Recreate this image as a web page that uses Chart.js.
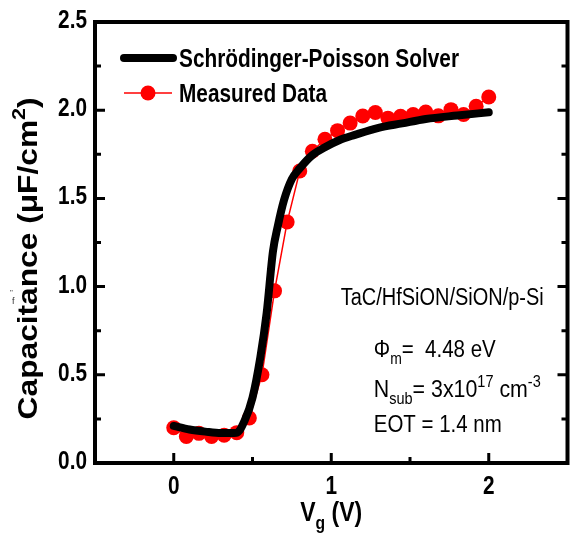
<!DOCTYPE html>
<html>
<head>
<meta charset="utf-8">
<script src="https://cdn.jsdelivr.net/npm/chart.js@4.4.0/dist/chart.umd.min.js"></script>
<style>
  html, body { margin: 0; padding: 0; background: #fff; overflow: hidden; }
  canvas { display: block; }
</style>
</head>
<body>
<canvas id="c" width="575" height="547"></canvas>
<script>
// データ
const solverV = [0, 0.1, 0.2, 0.3, 0.4, 0.45, 0.5, 0.55, 0.59, 0.63, 0.66, 0.70, 0.75, 0.80, 0.88, 0.96, 1.05, 1.15, 1.3, 1.45, 1.6, 1.8, 2.0];
const solverC = [0.21, 0.19, 0.178, 0.17, 0.172, 0.24, 0.37, 0.6, 0.85, 1.2, 1.34, 1.49, 1.61, 1.67, 1.745, 1.79, 1.83, 1.86, 1.9, 1.925, 1.95, 1.97, 1.988];

const measV = [0, 0.08, 0.16, 0.24, 0.32, 0.40, 0.48, 0.56, 0.64, 0.72, 0.80, 0.88, 0.96, 1.04, 1.12, 1.20, 1.28, 1.36, 1.44, 1.52, 1.60, 1.68, 1.76, 1.84, 1.92, 2.00];
const measC = [0.2, 0.15, 0.168, 0.15, 0.157, 0.172, 0.255, 0.5, 0.976, 1.366, 1.655, 1.767, 1.835, 1.884, 1.927, 1.967, 1.987, 1.955, 1.965, 1.976, 1.99, 1.968, 2.003, 1.976, 2.022, 2.075];

const xTicks = [0, 1, 2];
const xMinor = [0.5, 1.5];
const yMinor = [0.25, 0.75, 1.25, 1.75, 2.25];

const seriesNames = ['Schrödinger-Poisson Solver', 'Measured Data'];

const FONT_W = "'Liberation Sans', Arial, sans-serif";
const NARROW = 0.8; // Arial Narrow 風に横を詰める

// 文字列（下付き・上付き込み）を幅合わせで描く
function richWidth(ctx, parts, size, weight) {
  let w = 0;
  for (const p of parts) {
    const s = (p.sub || p.sup) ? size * 0.68 : size;
    ctx.font = `${weight} ${s}px ${FONT_W}`;
    w += ctx.measureText(p.t).width;
  }
  return w;
}

function drawRich(ctx, parts, x, y, size, weight, targetW, align) {
  ctx.save();
  const nat = richWidth(ctx, parts, size, weight);
  const sx = targetW ? targetW / nat : NARROW;
  const w = nat * sx;
  const x0 = align === 'center' ? x - w / 2 : align === 'right' ? x - w : x;
  ctx.translate(x0, y);
  ctx.scale(sx, 1);
  ctx.textBaseline = 'alphabetic';
  ctx.textAlign = 'left';
  ctx.fillStyle = '#000';
  let cx = 0;
  for (const p of parts) {
    const s = (p.sub || p.sup) ? size * 0.68 : size;
    ctx.font = `${weight} ${s}px ${FONT_W}`;
    const dy = p.sub ? size * 0.3 : p.sup ? -size * 0.42 : 0;
    ctx.fillText(p.t, cx, dy);
    cx += ctx.measureText(p.t).width;
  }
  ctx.restore();
}

// 枠と内向きの目盛り、目盛りラベル
const framePlugin = {
  id: 'frame',
  afterDraw(chart) {
    const { ctx, chartArea: a, scales } = chart;
    const xs = scales.x, ys = scales.y;
    ctx.save();
    ctx.strokeStyle = '#000';
    ctx.lineWidth = 4;
    ctx.strokeRect(a.left, a.top, a.right - a.left, a.bottom - a.top);

    ctx.lineWidth = 3;
    ctx.beginPath();
    for (const v of xTicks) {
      const px = xs.getPixelForValue(v);
      ctx.moveTo(px, a.bottom); ctx.lineTo(px, a.bottom - 10);
    }
    for (const v of xMinor) {
      const px = xs.getPixelForValue(v);
      ctx.moveTo(px, a.bottom); ctx.lineTo(px, a.bottom - 6);
    }
    for (const t of ys.ticks) {
      const py = ys.getPixelForValue(t.value);
      ctx.moveTo(a.left, py); ctx.lineTo(a.left + 10, py);
      ctx.moveTo(a.right, py); ctx.lineTo(a.right - 10, py);
    }
    for (const v of yMinor) {
      const py = ys.getPixelForValue(v);
      ctx.moveTo(a.left, py); ctx.lineTo(a.left + 6, py);
      ctx.moveTo(a.right, py); ctx.lineTo(a.right - 6, py);
    }
    ctx.stroke();
    ctx.restore();

    // 目盛りラベル（スケールの ticks から）
    for (const t of ys.ticks) {
      const py = ys.getPixelForValue(t.value);
      drawRich(ctx, [{ t: t.label }], a.left - 8, py + 6, 26, 'bold', null, 'right');
    }
    for (const t of xs.ticks) {
      const px = xs.getPixelForValue(t.value);
      drawRich(ctx, [{ t: t.label }], px, a.bottom + 31, 26, 'bold', null, 'center');
    }
  }
};

// 凡例・軸タイトル・注記
const textPlugin = {
  id: 'texts',
  afterDraw(chart) {
    const { ctx, scales } = chart;
    const xs = scales.x, ys = scales.y;
    const ds = chart.data.datasets;

    // 凡例
    ctx.save();
    ctx.lineCap = 'round';
    ctx.strokeStyle = ds[0].borderColor;
    ctx.lineWidth = ds[0].borderWidth;
    ctx.beginPath(); ctx.moveTo(124, 58); ctx.lineTo(173, 58); ctx.stroke();
    ctx.strokeStyle = ds[1].borderColor;
    ctx.lineWidth = ds[1].borderWidth;
    ctx.lineCap = 'butt';
    ctx.beginPath(); ctx.moveTo(124, 93); ctx.lineTo(172, 93); ctx.stroke();
    ctx.fillStyle = ds[1].pointBackgroundColor;
    ctx.beginPath(); ctx.arc(148, 93, ds[1].pointRadius, 0, Math.PI * 2); ctx.fill();
    ctx.restore();
    drawRich(ctx, [{ t: seriesNames[0] }], 179, 67, 25, 'bold', 280);
    drawRich(ctx, [{ t: seriesNames[1] }], 179, 102, 25, 'bold', 148);

    // 軸タイトル
    drawRich(ctx, [{ t: 'V' }, { t: 'g', sub: true }, { t: ' (V)' }], xs.getPixelForValue(1), 521, 27, 'bold', 62, 'center');
    ctx.save();
    ctx.translate(37, ys.getPixelForValue(1.16));
    ctx.rotate(-Math.PI / 2);
    drawRich(ctx, [{ t: 'Capacitance (μF/cm' }, { t: '2', sup: true }, { t: ')' }], 0, 0, 28, 'bold', 322, 'center');
    ctx.restore();

    // 注記
    const ax = xs.getPixelForValue(1.27);
    drawRich(ctx, [{ t: 'TaC/HfSiON/SiON/p-Si' }], xs.getPixelForValue(1.06), 305, 23, 'normal', 203);
    drawRich(ctx, [{ t: 'Φ' }, { t: 'm', sub: true }, { t: '=  4.48 eV' }], ax, 357, 23, 'normal', 122);
    drawRich(ctx, [{ t: 'N' }, { t: 'sub', sub: true }, { t: '= 3x10' }, { t: '17', sup: true }, { t: ' cm' }, { t: '-3', sup: true }], ax, 397, 23, 'normal', 167);
    drawRich(ctx, [{ t: 'EOT = 1.4 nm' }], ax, 432, 23, 'normal', 128);

    // 左端の切れた文字
    ctx.save();
    ctx.fillStyle = '#333';
    ctx.font = `9px ${FONT_W}`;
    ctx.fillText('f', 12, 304);
    ctx.font = `8px ${FONT_W}`;
    ctx.fillText('"', 10, 295);
    ctx.restore();
  }
};

const chart = new Chart(document.getElementById('c').getContext('2d'), {
  type: 'line',
  data: {
    datasets: [
      {
        label: seriesNames[0],
        data: solverV.map((v, i) => ({ x: v, y: solverC[i] })),
        borderColor: '#000000',
        borderWidth: 8,
        pointRadius: 0,
        cubicInterpolationMode: 'monotone',
        borderCapStyle: 'round',
        borderJoinStyle: 'round',
        order: 0,
      },
      {
        label: seriesNames[1],
        data: measV.map((v, i) => ({ x: v, y: measC[i] })),
        borderColor: '#ff0000',
        borderWidth: 1.5,
        pointRadius: 7.5,
        pointBackgroundColor: '#ff0000',
        pointBorderWidth: 0,
        order: 1,
      },
    ],
  },
  options: {
    responsive: false,
    animation: false,
    devicePixelRatio: 1,
    layout: { padding: { top: 22, left: 0, right: 0, bottom: 0 } },
    plugins: { legend: { display: false }, tooltip: { enabled: false } },
    scales: {
      x: {
        type: 'linear',
        min: -0.5,
        max: 2.5,
        afterBuildTicks: s => { s.ticks = xTicks.map(v => ({ value: v })); },
        afterFit: s => { s.height = 84; },
        grid: { display: false, drawTicks: false },
        border: { display: false },
        ticks: { display: false, callback: v => String(v) },
      },
      y: {
        min: 0,
        max: 2.5,
        afterFit: s => { s.width = 95; },
        grid: { display: false, drawTicks: false },
        border: { display: false },
        ticks: { display: false, stepSize: 0.5, callback: v => v.toFixed(1) },
      },
    },
  },
  plugins: [framePlugin, textPlugin],
});
</script>
</body>
</html>
